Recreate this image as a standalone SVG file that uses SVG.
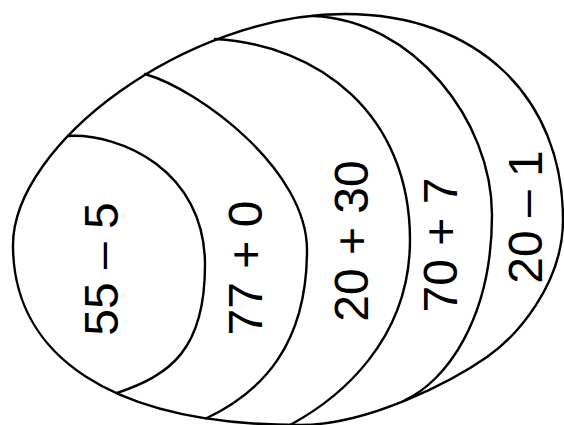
<svg xmlns="http://www.w3.org/2000/svg" width="564" height="425" viewBox="0 0 564 425">
  <style>
    .line { fill: none; stroke: #000; stroke-width: 2.4; stroke-linejoin: round; stroke-linecap: round; }
    .lbl { font-family: "Liberation Sans", Arial, sans-serif; font-size: 48px; fill: #000; text-anchor: middle; }
  </style>
  <rect width="564" height="425" fill="#fff"/>
  <g id="connectors">
    <path id="outer" class="line" d="M13,245 C13,145 185,14 345,14 C476,14 563,96 563,220 C563,285 515.7,337 487,357 C454,380 370,425 300,425 C110,425 13,355 13,245 Z"/>
    <path id="curve1" class="line" d="M68,136 C120,133 205,170 205,265 C205,350 170,375 117,393"/>
    <path id="curve2" class="line" d="M145,74 C200,90 307,170 307,250 C307,345 262,392 206,418.5"/>
    <path id="curve3" class="line" d="M215,39 C320,45 410,115 410,240 C410,340 340,398 290,425"/>
    <path id="curve4" class="line" d="M313,16 C413,20 492,120 492,215 C492,320 445,382 405,400"/>
  </g>
  <g id="node-55-5"><text class="lbl" transform="translate(118,269) rotate(-90)">55 – 5</text></g>
  <g id="node-77-0"><text class="lbl" transform="translate(262,268) rotate(-90)">77 + 0</text></g>
  <g id="node-20-30"><text class="lbl" transform="translate(368,241) rotate(-90)">20 + 30</text></g>
  <g id="node-70-7"><text class="lbl" transform="translate(457,245) rotate(-90)">70 + 7</text></g>
  <g id="node-20-1"><text class="lbl" transform="translate(542,217) rotate(-90)">20 – 1</text></g>
</svg>
